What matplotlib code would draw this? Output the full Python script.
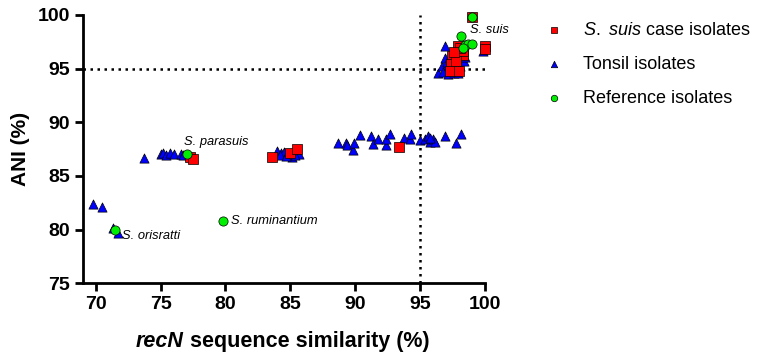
import matplotlib.pyplot as plt

plt.rcParams["font.family"] = ["Liberation Sans", "DejaVu Sans"]
plt.rcParams["mathtext.fontset"] = "custom"
plt.rcParams["mathtext.rm"] = "Liberation Sans"
plt.rcParams["mathtext.it"] = "Liberation Sans:italic"

# recN similarity (%) vs ANI (%)
case_x = [77.3, 77.5, 83.6, 85.0, 85.5, 93.4,
          97.9, 97.5, 98.3, 97.4, 97.35, 98.0, 98.3, 97.8, 100.0, 100.0, 99.0, 98.1, 97.6]
case_y = [86.8, 86.55, 86.8, 87.1, 87.5, 87.7,
          97.1, 96.15, 96.3, 95.4, 94.75, 94.8, 96.6, 95.7, 97.1, 96.8, 99.8, 96.9, 96.5]

tonsil_x = [69.8, 70.5, 71.3, 71.7,
            73.7, 75.0, 75.2, 75.4, 75.7, 76.05, 76.6, 76.7,
            84.0, 84.3, 84.55, 84.8, 85.1, 85.7, 84.2, 84.7, 85.4,
            88.7, 89.3, 89.4, 89.8, 89.9, 90.4, 91.2, 91.4, 91.8, 92.35, 92.4, 92.7,
            93.8, 94.2, 94.3, 95.0, 95.4, 95.6, 95.75, 96.0, 96.2, 95.8, 96.9, 97.8, 98.15,
            96.9, 96.4, 96.7, 96.8, 97.2, 97.6, 98.1, 98.4, 96.9, 97.1, 97.9, 98.5, 99.9]
tonsil_y = [82.4, 82.1, 80.1, 79.7,
            86.65, 87.0, 87.15, 86.95, 87.1, 87.0, 87.0, 86.9,
            87.3, 87.1, 87.2, 87.0, 86.8, 87.0, 86.9, 86.85, 86.9,
            88.05, 88.05, 87.9, 87.4, 88.05, 88.8, 88.7, 88.0, 88.4, 87.9, 88.4, 88.9,
            88.5, 88.4, 88.9, 88.3, 88.4, 88.7, 88.2, 88.4, 88.2, 88.5, 88.7, 88.1, 88.9,
            97.1, 94.6, 95.2, 94.7, 94.5, 94.6, 95.2, 95.7, 96.0, 95.6, 94.6, 96.1, 96.6]

ref_x = [71.5, 77.05, 79.8, 99.0, 98.2, 98.5, 98.7, 99.05, 98.3]
ref_y = [80.0, 87.0, 80.8, 99.8, 98.0, 97.15, 97.3, 97.3, 96.9]

ref_names = ["S. orisratti", "S. parasuis", "S. ruminantium", "S. suis"]
ref_label_pos = [(72.0, 79.4), (76.8, 88.2), (80.4, 80.8), (98.9, 98.6)]

fig = plt.figure(figsize=(7.67, 3.54), dpi=100)
ax = fig.add_axes([0.108, 0.2, 0.524, 0.758])

ax.axhline(95, color="black", ls=(0, (1, 1.8)), lw=1.8, zorder=1)
ax.axvline(95, color="black", ls=(0, (1, 1.8)), lw=1.8, zorder=1)

ax.scatter(tonsil_x, tonsil_y, marker="^", s=44, c="#0000ff", clip_on=False,
           edgecolors="black", linewidths=0.5, zorder=3, label="Tonsil isolates")
ax.scatter(case_x, case_y, marker="s", s=42, c="#ff0000", clip_on=False,
           edgecolors="black", linewidths=0.5, zorder=4,
           label=r"$\it{S.\ suis}$ case isolates")
ax.scatter(ref_x, ref_y, marker="o", s=44, c="#00ee00", clip_on=False,
           edgecolors="black", linewidths=0.5, zorder=5, label="Reference isolates")

for name, (lx, ly) in zip(ref_names, ref_label_pos):
    ax.text(lx, ly, name, fontsize=9.3, style="italic", ha="left", va="center")

ax.set_xlim(69, 100)
ax.set_ylim(75, 100)
ax.set_xticks([70, 75, 80, 85, 90, 95, 100])
ax.set_yticks([75, 80, 85, 90, 95, 100])
ax.spines["top"].set_visible(False)
ax.spines["right"].set_visible(False)
ax.spines["left"].set_linewidth(2)
ax.spines["bottom"].set_linewidth(2)
ax.tick_params(width=2, length=6, labelsize=14, pad=3)
for lab in ax.get_xticklabels() + ax.get_yticklabels():
    lab.set_fontweight("bold")

ax.set_ylabel("ANI (%)", fontsize=15, fontweight="bold", labelpad=6)

t1 = fig.text(0.177, 0.005, "recN", fontsize=15.5, fontweight="bold",
              style="italic", ha="left", va="bottom")
ax.annotate(" sequence similarity (%)", xy=(1, 0), xycoords=t1,
            fontsize=15.5, fontweight="bold", ha="left", va="bottom")

h, l = ax.get_legend_handles_labels()
order = [1, 0, 2]
fig.legend([h[i] for i in order], [l[i] for i in order],
           loc="upper left", bbox_to_anchor=(0.678, 0.985), frameon=False,
           fontsize=13, markerscale=0.7, handletextpad=0.6, labelspacing=0.95)

fig.savefig("out.png", dpi=100)
